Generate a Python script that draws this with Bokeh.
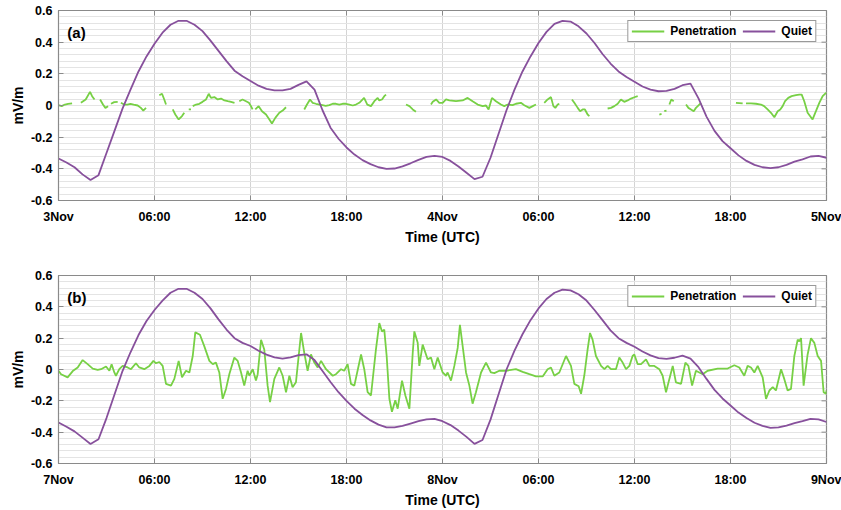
import numpy as np
from bokeh.plotting import figure
from bokeh.models import Range1d, FixedTicker, Label, Legend, LegendItem
from bokeh.layouts import column
from bokeh.embed import file_html
from bokeh.resources import INLINE

# ---------------- data ----------------
x_ticks = [0, 6, 12, 18, 24, 30, 36, 42, 48]
x_labels_a = ["3Nov", "06:00", "12:00", "18:00", "4Nov", "06:00", "12:00", "18:00", "5Nov"]
x_labels_b = ["7Nov", "06:00", "12:00", "18:00", "8Nov", "06:00", "12:00", "18:00", "9Nov"]
y_ticks = [-0.6, -0.4, -0.2, 0.0, 0.2, 0.4, 0.6]
y_labels = ["-0.6", "-0.4", "-0.2", "0", "0.2", "0.4", "0.6"]

# half-hour sampling of the quiet-day curves (hours since start of panel)
quiet_hours = [i * 0.5 for i in range(97)]

quiet_a = [
    -0.335, -0.36, -0.39, -0.435, -0.47, -0.44, -0.30, -0.16, -0.02, 0.10,
    0.215, 0.31, 0.39, 0.46, 0.51, 0.535, 0.535, 0.51, 0.47, 0.41,
    0.345, 0.28, 0.22, 0.185, 0.155, 0.125, 0.105, 0.095, 0.095, 0.105,
    0.13, 0.152, 0.10, -0.03, -0.14, -0.21, -0.265, -0.31, -0.345, -0.37,
    -0.39, -0.40, -0.398, -0.385, -0.365, -0.343, -0.325, -0.318,
    -0.325, -0.35, -0.385, -0.425, -0.465, -0.45, -0.33, -0.18, -0.03, 0.10,
    0.215, 0.31, 0.395, 0.465, 0.515, 0.535, 0.53, 0.50, 0.455, 0.395,
    0.325, 0.265, 0.215, 0.18, 0.15, 0.12, 0.10, 0.09, 0.092, 0.105,
    0.128, 0.138, 0.045, -0.07, -0.16, -0.225, -0.27, -0.315, -0.35, -0.375,
    -0.39, -0.395, -0.39, -0.375, -0.355, -0.34, -0.322, -0.318, -0.33,
]

quiet_b = [
    -0.338, -0.365, -0.395, -0.435, -0.475, -0.445, -0.31, -0.16, -0.01, 0.11,
    0.22, 0.31, 0.38, 0.44, 0.49, 0.515, 0.515, 0.49, 0.45, 0.39,
    0.32, 0.255, 0.20, 0.17, 0.15, 0.12, 0.095, 0.077, 0.07, 0.078,
    0.092, 0.097, 0.06, -0.01, -0.08, -0.145, -0.20, -0.25, -0.29, -0.325,
    -0.352, -0.37, -0.37, -0.36, -0.345, -0.33, -0.318, -0.315,
    -0.33, -0.355, -0.39, -0.43, -0.475, -0.45, -0.32, -0.16, 0.0, 0.12,
    0.225, 0.315, 0.39, 0.45, 0.49, 0.51, 0.505, 0.48, 0.44, 0.38,
    0.315, 0.25, 0.20, 0.17, 0.145, 0.115, 0.09, 0.072, 0.068, 0.075,
    0.088, 0.07, 0.015, -0.06, -0.13, -0.185, -0.23, -0.275, -0.31, -0.34,
    -0.36, -0.372, -0.37, -0.358, -0.343, -0.33, -0.315, -0.318, -0.335,
]

# penetration field, panel (a): (hour, value); None marks a data gap
pen_a = [
    (0.0, 0.002), (0.2, -0.004), (0.4, 0.006), (0.6, 0.01), (0.85, 0.013), None,
    (1.4, 0.017), (1.7, 0.038), (1.97, 0.086), (2.1, 0.059), (2.25, 0.038), None,
    (2.6, 0.038), (2.78, 0.006), (2.93, -0.015), (3.1, -0.004), None,
    (3.28, 0.011), (3.48, 0.021), (3.7, 0.023), None,
    (3.9, 0.017), (4.1, 0.006), (4.3, 0.006), (4.5, 0.011), (4.7, 0.006), (4.95, 0.0),
    (5.15, -0.015), (5.3, -0.032), (5.47, -0.015), None,
    (6.3, 0.065), (6.47, 0.074), (6.61, 0.038), (6.72, 0.006), None,
    (7.14, -0.025), (7.3, -0.057), (7.51, -0.088), (7.72, -0.067), (7.86, -0.046), None,
    (8.14, -0.025), (8.28, -0.025), None,
    (8.39, -0.004), (8.6, 0.006), (8.8, 0.011), (9.0, 0.023), (9.22, 0.038), (9.39, 0.074),
    (9.53, 0.048), (9.74, 0.053), (9.95, 0.038), (10.16, 0.044), (10.37, 0.032),
    (10.58, 0.027), (10.78, 0.023), (11.0, 0.017), None,
    (11.3, 0.027), (11.5, 0.038), (11.72, 0.027), (11.9, 0.017), (12.03, -0.004),
    (12.13, -0.025), None,
    (12.3, -0.025), (12.51, -0.004), (12.72, -0.036), (12.97, -0.057), (13.18, -0.088),
    (13.34, -0.114), (13.55, -0.078), (13.8, -0.046), (14.01, -0.032), (14.22, -0.011), None,
    (15.36, -0.025), (15.53, 0.006), (15.72, 0.038), (15.88, 0.017), (16.09, 0.011),
    (16.3, 0.006), (16.5, 0.002), (16.7, -0.002), (16.93, 0.002), (17.14, 0.011),
    (17.34, 0.011), (17.55, 0.006), (17.76, 0.011), (17.97, 0.011), (18.18, 0.006),
    (18.39, 0.0), (18.59, 0.006), (18.8, 0.017), (19.1, 0.048), (19.3, 0.006),
    (19.53, -0.004), (19.74, 0.027), (19.95, 0.048), (20.05, 0.032), (20.22, 0.038),
    (20.36, 0.059), (20.47, 0.069), None,
    (21.72, 0.006), (21.93, -0.004), (22.14, -0.025), (22.34, -0.04), None,
    (23.28, 0.006), (23.39, 0.023), (23.6, 0.038), (23.8, 0.017), (24.01, 0.017),
    (24.22, 0.038), (24.43, 0.032), (24.84, 0.027), (25.26, 0.032), (25.57, 0.048),
    (25.88, 0.027), (26.2, 0.006), (26.51, -0.004), (26.72, 0.0), (26.88, -0.025),
    (27.09, 0.048), (27.34, 0.027), (27.65, 0.006), (27.86, -0.004), (28.07, 0.006),
    (28.38, 0.002), (28.59, 0.011), (28.9, 0.017), (29.11, 0.002), (29.43, -0.015),
    (29.64, -0.004), (29.84, 0.006), None,
    (30.36, 0.017), (30.57, 0.038), (30.78, 0.053), (30.93, -0.004), (31.05, -0.015),
    (31.2, 0.006), (31.3, 0.011), None,
    (32.09, 0.038), (32.24, 0.017), (32.45, -0.015), (32.6, -0.036), (32.76, -0.025),
    (32.9, -0.025), (33.07, -0.057), (33.18, -0.067), None,
    (34.32, -0.019), (34.53, -0.015), (34.74, -0.004), (34.95, 0.011), (35.15, 0.038),
    (35.36, 0.023), (35.57, 0.032), (35.78, 0.044), (35.99, 0.052), (36.2, 0.059), None,
    (37.55, -0.057), (37.69, -0.053), None,
    (37.86, -0.036), (38.0, -0.032), None,
    (38.18, 0.006), (38.3, 0.038), (38.45, 0.027), None,
    (39.22, 0.006), (39.37, -0.015), (39.53, -0.025), (39.7, -0.036), (39.84, -0.015),
    (40.05, 0.006), (40.16, 0.017), None,
    (42.34, 0.017), (42.55, 0.015), (42.76, 0.013), None,
    (42.97, 0.013), (43.28, 0.013), (43.59, 0.011), (43.9, 0.006), (44.1, -0.004),
    (44.32, -0.025), (44.53, -0.046), (44.74, -0.074), (44.95, -0.036), (45.11, -0.025),
    (45.26, -0.004), (45.41, 0.027), (45.61, 0.048), (45.82, 0.059), (46.09, 0.065),
    (46.3, 0.069), (46.45, 0.069), (46.61, 0.027), (46.82, -0.046), (47.13, -0.088),
    (47.34, -0.036), (47.55, 0.017), (47.76, 0.059), (47.97, 0.08), (48.0, 0.075),
]

# penetration field, panel (b): (hour, value)
pen_b = [
    (0.0, -0.008), (0.16, -0.03), (0.57, -0.05), (0.89, -0.01), (1.2, 0.013), (1.51, 0.06),
    (1.82, 0.034), (2.14, 0.006), (2.45, -0.002), (2.66, 0.002), (2.97, 0.019), (3.18, -0.008),
    (3.32, 0.034), (3.49, -0.019), (3.59, -0.04), (3.8, 0.002), (4.01, 0.023), (4.32, 0.013),
    (4.53, 0.002), (4.84, 0.04), (5.05, 0.013), (5.36, 0.002), (5.68, 0.023), (5.93, 0.055),
    (6.09, 0.04), (6.3, 0.048), (6.51, 0.023), (6.72, -0.092), (7.03, -0.103), (7.24, -0.06),
    (7.51, 0.055), (7.72, -0.05), (7.97, -0.008), (8.18, -0.019), (8.39, 0.086), (8.55, 0.237),
    (8.84, 0.222), (9.11, 0.149), (9.43, 0.055), (9.64, 0.034), (9.84, 0.044), (10.05, -0.019),
    (10.26, -0.187), (10.47, -0.124), (10.68, -0.029), (10.99, 0.076), (11.2, 0.055),
    (11.41, -0.019), (11.61, -0.103), (11.82, -0.008), (11.93, -0.04), (12.14, 0.002),
    (12.34, -0.07), (12.45, -0.03), (12.66, 0.19), (12.86, 0.128), (13.07, -0.103),
    (13.22, -0.208), (13.49, -0.06), (13.8, 0.013), (14.01, -0.04), (14.22, -0.145),
    (14.43, -0.04), (14.63, -0.113), (14.84, -0.082), (15.16, 0.233), (15.36, 0.107),
    (15.57, -0.008), (15.78, 0.096), (15.99, 0.044), (16.2, 0.013), (16.41, 0.055),
    (16.72, 0.002), (17.14, -0.04), (17.34, -0.03), (17.66, 0.002), (17.86, -0.008),
    (18.07, 0.034), (18.28, -0.092), (18.49, -0.103), (18.91, 0.096), (19.11, 0.002),
    (19.32, -0.145), (19.53, -0.166), (19.84, 0.128), (20.05, 0.296), (20.22, 0.243),
    (20.36, 0.254), (20.51, 0.086), (20.68, -0.187), (20.84, -0.27), (21.05, -0.197),
    (21.2, -0.25), (21.47, -0.071), (21.68, -0.166), (21.93, -0.25), (22.14, 0.107),
    (22.24, 0.243), (22.45, 0.17), (22.55, 0.023), (22.76, 0.159), (23.07, 0.065),
    (23.28, 0.076), (23.49, 0.002), (23.7, 0.076), (24.01, -0.019), (24.22, -0.04),
    (24.32, -0.019), (24.53, -0.071), (24.74, 0.023), (24.95, 0.138), (25.09, 0.285),
    (25.26, 0.149), (25.47, -0.019), (25.68, -0.103), (25.88, -0.218), (26.09, -0.145),
    (26.41, -0.019), (26.72, 0.044), (27.03, -0.019), (27.24, -0.023), (27.55, -0.008),
    (27.97, -0.008), (28.59, 0.002), (29.01, -0.015), (29.43, -0.03), (29.84, -0.044),
    (30.26, -0.044), (30.57, 0.002), (30.78, 0.013), (30.99, -0.04), (31.3, -0.019),
    (31.72, 0.086), (32.03, 0.023), (32.24, -0.092), (32.51, -0.107), (32.66, -0.155),
    (32.86, -0.04), (33.07, 0.128), (33.22, 0.233), (33.38, 0.191), (33.59, 0.086),
    (33.91, 0.023), (34.12, 0.002), (34.32, 0.023), (34.53, 0.002), (34.84, 0.002),
    (35.05, 0.076), (35.26, 0.044), (35.47, 0.002), (35.68, 0.023), (35.88, 0.086),
    (35.99, 0.096), (36.2, 0.034), (36.41, 0.034), (36.72, 0.065), (36.93, 0.023),
    (37.24, 0.023), (37.55, 0.002), (37.76, -0.04), (37.97, -0.145), (38.18, -0.06),
    (38.39, 0.023), (38.59, -0.082), (38.91, -0.092), (39.18, 0.044), (39.37, 0.023),
    (39.6, -0.103), (39.84, -0.008), (40.26, -0.03), (40.57, -0.008), (41.2, 0.006),
    (41.82, 0.006), (42.24, 0.027), (42.55, 0.013), (42.86, -0.04), (43.07, 0.023),
    (43.28, 0.013), (43.49, -0.019), (43.7, 0.023), (44.01, -0.05), (44.22, -0.187),
    (44.43, -0.134), (44.64, -0.113), (44.84, -0.134), (45.16, 0.002), (45.36, -0.06),
    (45.57, -0.134), (45.78, -0.124), (45.99, 0.086), (46.2, 0.191), (46.3, 0.18),
    (46.41, 0.2), (46.57, -0.103), (46.82, 0.096), (47.03, 0.2), (47.24, 0.17),
    (47.45, 0.086), (47.66, 0.055), (47.82, -0.145), (47.97, -0.155), (48.0, -0.134),
]

GREEN = "#77d045"
PURPLE = "#87509c"
AXIS_GRAY = "#8a8a8a"
FONT = "Liberation Sans"

X_MIN, X_MAX = 0, 48
Y_MIN, Y_MAX = -0.6, 0.6


def split_pairs(pairs):
    xs, ys = [], []
    for p in pairs:
        if p is None:
            xs.append(np.nan)
            ys.append(np.nan)
        else:
            xs.append(p[0])
            ys.append(p[1])
    return xs, ys


def make_panel(tag, xlabels, quiet, pen, height, top_border, bottom_border):
    frame_w = 841 - 58 - 15
    frame_h = height - top_border - bottom_border
    p = figure(width=841, height=height, x_range=Range1d(X_MIN, X_MAX),
               y_range=Range1d(Y_MIN, Y_MAX),
               output_backend="svg", toolbar_location=None,
               min_border_left=58, min_border_right=15,
               min_border_top=top_border, min_border_bottom=bottom_border)
    p.background_fill_color = "white"
    p.border_fill_color = "white"
    p.outline_line_color = AXIS_GRAY
    p.outline_line_width = 1.2

    minor_y = [round(Y_MIN + 0.04 * k, 4) for k in range(31)]
    p.xaxis.ticker = FixedTicker(ticks=x_ticks)
    p.yaxis.ticker = FixedTicker(ticks=y_ticks, minor_ticks=minor_y)
    p.xaxis.major_label_overrides = {t: l for t, l in zip(x_ticks, xlabels)}
    p.yaxis.major_label_overrides = {t: l for t, l in zip(y_ticks, y_labels)}

    for ax in (p.xaxis[0], p.yaxis[0]):
        ax.major_tick_in = 5
        ax.major_tick_out = 0
        ax.minor_tick_in = 0
        ax.minor_tick_out = 0
        ax.axis_line_color = AXIS_GRAY
        ax.major_tick_line_color = AXIS_GRAY
        ax.major_label_text_font = FONT
        ax.major_label_text_font_style = "bold"
        ax.major_label_text_font_size = "12.5px"
        ax.major_label_text_color = "black"
        ax.axis_label_text_font = FONT
        ax.axis_label_text_font_style = "bold"
        ax.axis_label_text_font_size = "14px"
        ax.axis_label_text_color = "black"
    p.xaxis.axis_label = "Time (UTC)"
    p.yaxis.axis_label = "mV/m"
    p.xaxis.major_label_standoff = 9
    p.xaxis.axis_label_standoff = 2
    p.yaxis.major_label_standoff = 6
    p.yaxis.axis_label_standoff = 2

    # mirrored tick marks on the right and top edges of the box (5 px long)
    tick_dx = 5 * (X_MAX - X_MIN) / frame_w
    tick_dy = 5 * (Y_MAX - Y_MIN) / frame_h
    p.segment(x0=[X_MAX] * len(y_ticks), y0=y_ticks,
              x1=[X_MAX - tick_dx] * len(y_ticks), y1=y_ticks,
              line_color=AXIS_GRAY, line_width=1)
    p.segment(x0=x_ticks, y0=[Y_MAX] * len(x_ticks),
              x1=x_ticks, y1=[Y_MAX - tick_dy] * len(x_ticks),
              line_color=AXIS_GRAY, line_width=1)

    p.xgrid.grid_line_color = "#d4d4d4"
    p.xgrid.grid_line_width = 1
    p.ygrid.grid_line_color = "#e4e4e4"
    p.ygrid.minor_grid_line_color = "#e4e4e4"

    gx, gy = split_pairs(pen)
    g = p.line(gx, gy, line_color=GREEN, line_width=1.8)
    q = p.line(quiet_hours, quiet, line_color=PURPLE, line_width=1.8)

    legend = Legend(items=[LegendItem(label="Penetration", renderers=[g]),
                           LegendItem(label="Quiet", renderers=[q])],
                    orientation="horizontal", location="top_right",
                    label_text_font=FONT, label_text_font_style="bold",
                    label_text_font_size="12px", label_text_color="black",
                    glyph_width=33, glyph_height=12, label_height=12,
                    label_standoff=6, spacing=6, padding=3, margin=10,
                    border_line_color="#333333", border_line_width=1,
                    background_fill_color="white", background_fill_alpha=1.0)
    p.add_layout(legend)

    p.add_layout(Label(x=0.55, y=0.515, text=tag, text_font=FONT, text_font_style="bold",
                       text_font_size="15px", text_baseline="top", text_color="black"))
    return p


pa = make_panel("(a)", x_labels_a, quiet_a, pen_a, 250, 10, 50)
pb = make_panel("(b)", x_labels_b, quiet_b, pen_b, 260, 25, 44)

layout = column(pa, pb, spacing=0)
open("out.html", "w").write(file_html(layout, INLINE))
